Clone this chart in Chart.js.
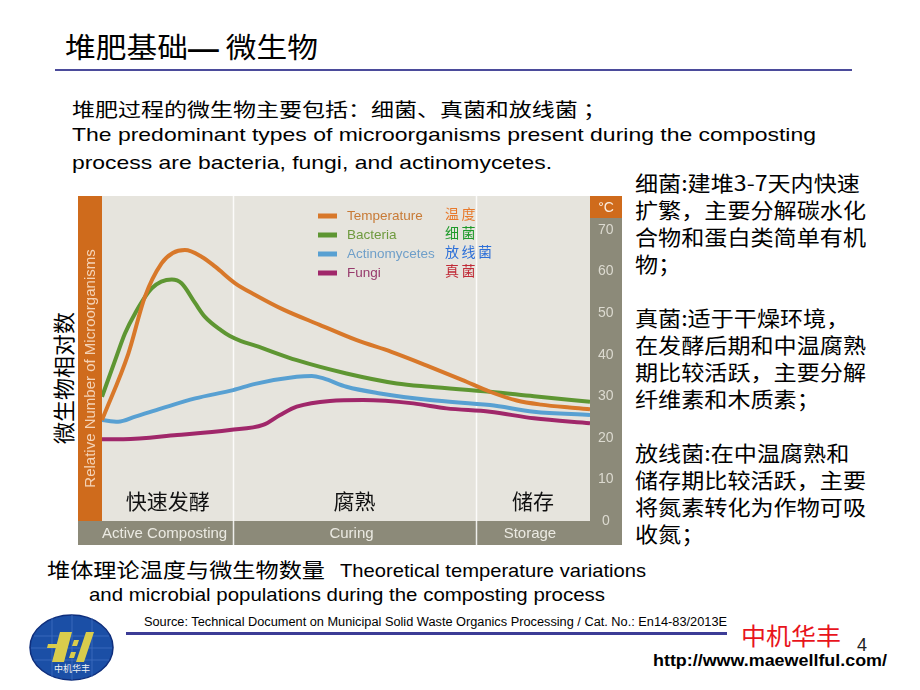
<!DOCTYPE html>
<html lang="zh-CN">
<head>
<meta charset="utf-8">
<title>堆肥基础— 微生物</title>
<script src="https://cdn.jsdelivr.net/npm/chart.js@4.4.1/dist/chart.umd.min.js"></script>
<style>
  html, body { margin: 0; padding: 0; background: #fff; }
  body { width: 920px; height: 690px; position: relative; overflow: hidden;
         font-family: "Liberation Sans", Arial, sans-serif; color: #000; }
  .t { position: absolute; white-space: nowrap; line-height: 1; transform-origin: 0 50%; }
  .cn { font-family: "Noto Sans CJK SC", sans-serif; }
  .rule { position: absolute; }
  .dash { font-family: "Liberation Sans", Arial, sans-serif; font-weight: bold; }
  #notes { position: absolute; left: 635px; top: 169px; font-size: 21px; line-height: 27px;
           font-family: "Noto Sans CJK SC", sans-serif; white-space: nowrap; transform-origin: 0 0; }
  #vlabel { position: absolute; left: 62px; top: 378px; font-size: 22px; white-space: nowrap;
            font-family: "Noto Sans CJK SC", sans-serif; transform: translate(-50%, -50%) rotate(-90deg); }
  #chartBox { position: absolute; left: 78px; top: 196px; width: 544px; height: 349px; }
</style>
</head>
<body>

<div class="t cn" style="left:65px; top:32px; font-size:28px;" data-w="253">堆肥基础<span class="dash">—</span> 微生物</div>
<div class="rule" style="left:55px; top:69px; width:797px; height:2px; background:#4b4b9b;"></div>

<div class="t cn" style="left:72px; top:99px; font-size:19px;" data-w="534">堆肥过程的微生物主要包括：细菌、真菌和放线菌 ；</div>
<div class="t" style="left:72px; top:125px; font-size:19px;" data-w="744">The predominant types of microorganisms present during the composting</div>
<div class="t" style="left:72px; top:153px; font-size:19px;" data-w="480">process are bacteria, fungi, and actinomycetes.</div>

<div id="notes" data-w="231">细菌:建堆3-7天内快速<br>扩繁，主要分解碳水化<br>合物和蛋白类简单有机<br>物；<br><br>真菌:适于干燥环境，<br>在发酵后期和中温腐熟<br>期比较活跃，主要分解<br>纤维素和木质素；<br><br>放线菌:在中温腐熟和<br>储存期比较活跃，主要<br>将氮素转化为作物可吸<br>收氮；</div>

<div id="vlabel">微生物相对数</div>

<div id="chartBox"><canvas id="chart" width="544" height="349"></canvas></div>

<div class="t cn" style="left:47px; top:560px; font-size:20px;" data-w="278">堆体理论温度与微生物数量</div>
<div class="t" style="left:340px; top:561px; font-size:19px;" data-w="306">Theoretical temperature variations</div>
<div class="t" style="left:89px; top:585px; font-size:19px;" data-w="516">and microbial populations during the composting process</div>

<div class="t" style="left:144px; top:616px; font-size:12px;" data-w="583">Source: Technical Document on Municipal Solid Waste Organics Processing / Cat. No.: En14-83/2013E</div>
<div class="rule" style="left:126px; top:632px; width:601px; height:3px; background:#3c3c96;"></div>
<div class="t cn" style="left:741px; top:623px; font-size:24px; color:#e8141c;" data-w="100">中机华丰</div>
<div class="t" style="left:857px; top:636px; font-size:18px; color:#222;">4</div>
<div class="t" style="left:653px; top:652px; font-size:17px; font-weight:bold;" data-w="234">http://www.maewellful.com/</div>

<svg style="position:absolute; left:28px; top:614px;" width="88" height="68" viewBox="0 0 88 68">
  <ellipse cx="43.5" cy="33.5" rx="41.5" ry="32.5" fill="#1b4fa6" stroke="#0e2e7c" stroke-width="1.5"/>
  <g stroke="#3f6fc2" stroke-width="0.8" fill="none">
    <path d="M6 22 H81 M3 34 H84 M6 46 H81 M24 4 V63 M44 1 V66 M64 4 V63"/>
  </g>
  <g fill="#d9cc4c">
    <polygon points="32,18 44,18 36,48 24,48"/>
    <polygon points="20,30 36,30 35,34 19,34"/>
    <polygon points="46,26 51,26 49,32 44,32"/>
    <polygon points="43,38 48,38 46,44 41,44"/>
    <polygon points="58,18 66,18 56,48 48,48"/>
  </g>
  <text x="44" y="58" font-size="9" fill="#f2f2f2" text-anchor="middle" font-family="Noto Sans CJK SC">中机华丰</text>
</svg>

<script>
// phases of the composting process (x axis runs 0..100)
const phaseBounds = [0, 26.9, 76.6, 100];
const phaseNames = ['Active Composting', 'Curing', 'Storage'];
const phaseNamesCn = ['快速发酵', '腐熟', '储存'];

const seriesNames = ['Temperature', 'Bacteria', 'Actinomycetes', 'Fungi'];
const seriesNamesCn = ['温度', '细菌', '放线菌', '真菌'];

const tempX = [0, 5.4, 8.8, 12.2, 14.5, 17, 20.4, 23.2, 27.3, 31.4, 37.3, 44.6, 52.2, 59.3, 67.2, 73.9, 79.5, 85, 90, 95.8, 100];
const tempY = [24.3, 40.3, 54, 62, 64.5, 65.2, 63.6, 61.2, 57.2, 54.4, 50.8, 47.2, 43.5, 40.7, 37.1, 33.9, 31.1, 29, 28, 27.3, 26.9];

const bactX = [0, 2.7, 4.7, 6.8, 10.2, 14.3, 16.3, 19.1, 21.1, 24.5, 26.2, 28.5, 31.4, 39.9, 50.1, 60.4, 67.2, 79.5, 88.5, 100];
const bactY = [29.9, 38.7, 45.1, 50, 56, 58.1, 57.2, 52.4, 49.1, 45.8, 44.5, 43.3, 42.2, 38.7, 35.5, 33.1, 32.3, 31.1, 30, 28.7];

const actX = [0, 3.3, 6.8, 12.2, 19.1, 26.9, 31.4, 39.9, 43, 45.4, 50.1, 57, 67.2, 79.5, 88.5, 100];
const actY = [24.3, 23.9, 25.1, 27.1, 29.5, 31.5, 33, 34.7, 34.9, 34.3, 32.3, 30.7, 29.1, 27.9, 26.3, 25.5];

const fungiX = [0, 4.4, 15.4, 26.2, 33, 36.5, 39.9, 46.7, 53.5, 63.8, 70.6, 79.5, 88.5, 100];
const fungiY = [19.7, 19.7, 20.7, 21.9, 23.1, 25.5, 27.5, 28.9, 29.1, 28.3, 27.1, 26.3, 24.7, 23.5];

const lineColors = ['#d8782a', '#5e9632', '#58a0d2', '#a0276a'];
const legendTextColors = ['#c87a36', '#6e9a3e', '#6f9fc9', '#973a6c'];
const legendCnColors = ['#e8792a', '#1e9a2a', '#2c6fd8', '#c02a36'];

const pts = (xs, ys) => xs.map((x, i) => ({ x: x, y: ys[i] }));
const seriesPoints = [pts(tempX, tempY), pts(bactX, bactY), pts(actX, actY), pts(fungiX, fungiY)];

const bandGray = '#8c8a79';
const barOrange = '#cf6b1c';

const panelPlugin = {
  id: 'panel',
  beforeDraw(chart) {
    const ctx = chart.ctx, a = chart.chartArea;
    const W = chart.width, H = chart.height;
    ctx.save();
    ctx.fillStyle = '#e6e4dd';
    ctx.fillRect(a.left, a.top, a.right - a.left, a.bottom - a.top);
    ctx.fillStyle = barOrange;
    ctx.fillRect(0, a.top, a.left, a.bottom - a.top);
    ctx.fillStyle = bandGray;
    ctx.fillRect(0, a.bottom, a.right, H - a.bottom);
    ctx.fillRect(a.right, 0, W - a.right, H);
    ctx.fillStyle = barOrange;
    ctx.fillRect(a.right, 0, W - a.right, 22);
    ctx.fillStyle = '#fbeee2';
    ctx.font = '14px "Liberation Sans", Arial';
    ctx.textAlign = 'center';
    ctx.textBaseline = 'middle';
    ctx.fillText('°C', (a.right + W) / 2, 12);

    // rotated axis title on the orange bar
    ctx.translate(a.left / 2 + 0.5, (a.top + a.bottom) / 2 + 10);
    ctx.rotate(-Math.PI / 2);
    ctx.fillStyle = 'rgba(250, 228, 208, 0.85)';
    ctx.font = '15px "Liberation Sans", Arial';
    ctx.fillText('Relative Number of Microorganisms', 0, 0);
    ctx.restore();
  },
  beforeDatasetsDraw(chart) {
    const ctx = chart.ctx, a = chart.chartArea, x = chart.scales.x;
    ctx.save();
    ctx.strokeStyle = 'rgba(255,255,255,0.85)';
    ctx.lineWidth = 1.5;
    phaseBounds.slice(1, -1).forEach(v => {
      const px = Math.round(x.getPixelForValue(v)) + 0.5;
      ctx.beginPath();
      ctx.moveTo(px, 0);
      ctx.lineTo(px, chart.height);
      ctx.stroke();
    });
    ctx.textAlign = 'center';
    ctx.textBaseline = 'middle';
    phaseNames.forEach((name, i) => {
      const cx = (x.getPixelForValue(phaseBounds[i]) + x.getPixelForValue(phaseBounds[i + 1])) / 2;
      ctx.fillStyle = '#ebeae2';
      ctx.font = '15px "Liberation Sans", Arial';
      ctx.fillText(name, cx - 3, a.bottom + 13);
      ctx.fillStyle = '#111';
      ctx.font = '21px "Noto Sans CJK SC"';
      ctx.fillText(phaseNamesCn[i], cx, a.bottom - 20);
    });
    ctx.restore();
  },
  afterDatasetsDraw(chart) {
    const ctx = chart.ctx;
    ctx.save();
    ctx.textBaseline = 'middle';
    chart.data.datasets.forEach((ds, i) => {
      const y = 20 + i * 19;
      ctx.strokeStyle = ds.borderColor;
      ctx.lineWidth = 5;
      ctx.beginPath();
      ctx.moveTo(240, y);
      ctx.lineTo(259, y);
      ctx.stroke();
      ctx.fillStyle = legendTextColors[i];
      ctx.font = '13.5px "Liberation Sans", Arial';
      ctx.letterSpacing = '0px';
      ctx.fillText(ds.label, 269, y);
      ctx.fillStyle = legendCnColors[i];
      ctx.font = '14px "Noto Sans CJK SC"';
      ctx.letterSpacing = '2.5px';
      ctx.fillText(seriesNamesCn[i], 367, y - 2);
    });
    ctx.restore();
  }
};

new Chart(document.getElementById('chart').getContext('2d'), {
  type: 'line',
  data: {
    datasets: seriesNames.map((name, i) => ({
      label: name,
      data: seriesPoints[i],
      borderColor: lineColors[i],
      borderWidth: 4,
      pointRadius: 0,
      fill: false,
      cubicInterpolationMode: 'monotone'
    }))
  },
  options: {
    responsive: false,
    animation: false,
    layout: { padding: { left: 24, right: 0, top: 0, bottom: 24 } },
    plugins: { legend: { display: false }, tooltip: { enabled: false } },
    scales: {
      x: { type: 'linear', min: 0, max: 100, display: false },
      y: {
        position: 'right',
        min: 0,
        max: 78.2,
        grid: { display: false },
        border: { display: false },
        ticks: {
          stepSize: 10,
          includeBounds: false,
          crossAlign: 'center',
          padding: 0,
          color: '#dcdad0',
          font: { family: '"Liberation Sans", Arial', size: 14 }
        },
        afterFit(scale) {
          scale.width = 32;
          scale.paddingTop = 0;
          scale.paddingBottom = 0;
        }
      }
    }
  },
  plugins: [panelPlugin]
});

function fitWidths() {
  document.querySelectorAll('[data-w]').forEach(el => {
    el.style.transform = 'none';
    const w = el.getBoundingClientRect().width;
    el.style.transform = 'scaleX(' + (Number(el.dataset.w) / w) + ')';
  });
}
fitWidths();
document.fonts.ready.then(fitWidths);
</script>
</body>
</html>
